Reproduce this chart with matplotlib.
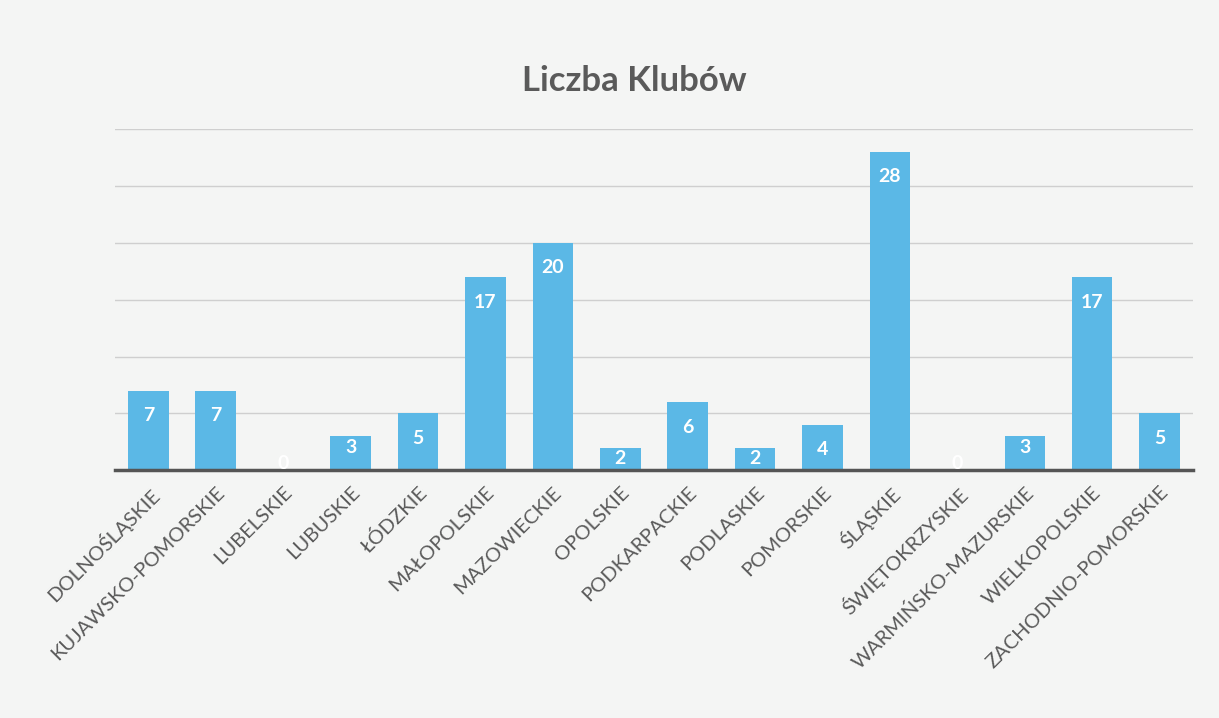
import numpy as np
import matplotlib.pyplot as plt

plt.rcParams['font.family'] = ['Lato', 'DejaVu Sans']

regions = ['DOLNOŚLĄSKIE', 'KUJAWSKO-POMORSKIE', 'LUBELSKIE', 'LUBUSKIE', 'ŁÓDZKIE',
           'MAŁOPOLSKIE', 'MAZOWIECKIE', 'OPOLSKIE', 'PODKARPACKIE', 'PODLASKIE',
           'POMORSKIE', 'ŚLĄSKIE', 'ŚWIĘTOKRZYSKIE', 'WARMIŃSKO-MAZURSKIE',
           'WIELKOPOLSKIE', 'ZACHODNIO-POMORSKIE']
clubs = [7, 7, 0, 3, 5, 17, 20, 2, 6, 2, 4, 28, 0, 3, 17, 5]

bar_color = '#5bb8e6'
text_gray = '#5a5a5a'

fig = plt.figure(figsize=(12.19, 7.18), dpi=100)
fig.patch.set_facecolor('#f4f5f4')
ax = fig.add_axes([0.094, 0.345, 0.885, 0.475])
ax.set_facecolor('#f4f5f4')

x = np.arange(len(regions))
bars = ax.bar(x, clubs, width=0.6, color=bar_color, zorder=2)
for xi, v in zip(x, clubs):
    ypos = v - 2.2 if v >= 4 else max(v - 1.0, 0.6)
    ax.text(xi, ypos, str(v), ha='center', va='center', color='white',
            fontsize=14, fontweight='bold', zorder=3)

ax.set_ylim(0, 30)
ax.set_xlim(-0.5, len(regions) - 0.5)
ax.set_yticks(np.arange(0, 31, 5))
ax.yaxis.grid(True, color='#cfcfcf', linewidth=1, zorder=0)
ax.tick_params(axis='y', left=False, labelleft=False)
ax.tick_params(axis='x', bottom=False, pad=6)
for s in ['top', 'right', 'left']:
    ax.spines[s].set_visible(False)
ax.spines['bottom'].set_color('#555555')
ax.spines['bottom'].set_linewidth(2.5)
ax.set_xticks(x)
ax.set_xticklabels(regions, rotation=45, ha='right', rotation_mode='anchor',
                   fontsize=14.5, color=text_gray)

fig.suptitle('Liczba Klubów', x=0.52, y=0.91, fontsize=25, fontweight='bold', color=text_gray)

plt.savefig('out.png', dpi=100, facecolor=fig.get_facecolor())
